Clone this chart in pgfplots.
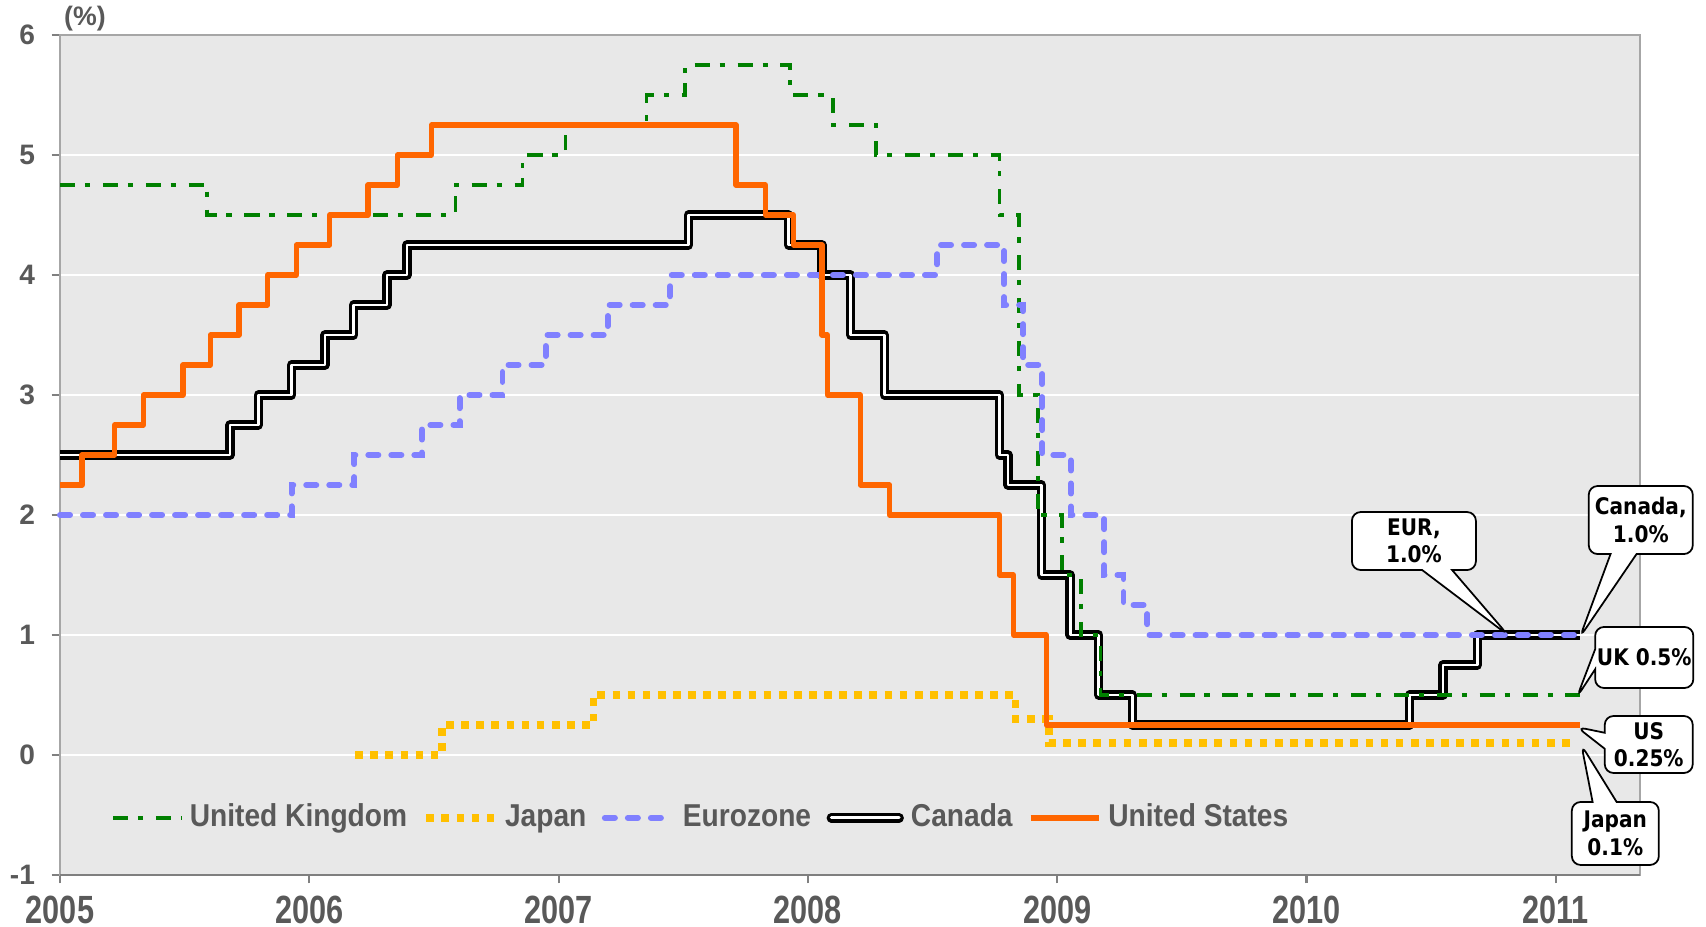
\documentclass[border=0pt]{standalone}
\usepackage{pgfplots}
\pgfplotsset{compat=1.18}
\usepackage{fontspec}
\setmainfont{Liberation Sans}
\newfontfamily\narrowfont{Liberation Sans}[FakeStretch=0.78]
\newfontfamily\legfont{Liberation Sans}[FakeStretch=0.89]
\newfontfamily\callfont{DejaVu Sans}[FakeStretch=0.88]
\usetikzlibrary{shapes.callouts}
\definecolor{ukgreen}{HTML}{008000}
\definecolor{jpyellow}{HTML}{FFC000}
\definecolor{eublue}{HTML}{8080FF}
\definecolor{usorange}{HTML}{FF6600}
\definecolor{txtgray}{HTML}{595959}
\definecolor{bggray}{HTML}{E8E8E8}
\definecolor{axgray}{HTML}{A6A6A6}
\definecolor{botgray}{HTML}{7F7F7F}

\pgfplotstableread{
x y
2005.000 2.25
2005.088 2.50
2005.219 2.75
2005.334 3.00
2005.493 3.25
2005.603 3.50
2005.718 3.75
2005.833 4.00
2005.948 4.25
2006.082 4.50
2006.236 4.75
2006.353 5.00
2006.490 5.25
2007.712 4.75
2007.830 4.50
2007.942 4.25
2008.057 3.50
2008.079 3.00
2008.210 2.25
2008.328 2.00
2008.768 1.50
2008.825 1.00
2008.956 0.25
2011.097 0.25
}\us

\pgfplotstableread{
x y
2005.000 2.50
2005.682 2.75
2005.795 3.00
2005.929 3.25
2006.063 3.50
2006.178 3.75
2006.312 4.00
2006.392 4.25
2007.521 4.50
2007.923 4.25
2008.057 4.00
2008.172 3.50
2008.306 3.00
2008.768 2.50
2008.803 2.25
2008.937 1.50
2009.052 1.00
2009.167 0.50
2009.301 0.25
2010.414 0.50
2010.548 0.75
2010.685 1.00
2011.097 1.00
}\canada

\pgfplotstableread{
x y
2005.000 2.00
2005.929 2.25
2006.181 2.50
2006.452 2.75
2006.603 3.00
2006.775 3.25
2006.948 3.50
2007.197 3.75
2007.447 4.00
2008.519 4.25
2008.787 3.75
2008.863 3.25
2008.940 2.50
2009.055 2.00
2009.189 1.50
2009.266 1.25
2009.362 1.00
2011.097 1.00
}\euro

\pgfplotstableread{
x y
2005.000 4.75
2005.589 4.50
2006.586 4.75
2006.855 5.00
2007.027 5.25
2007.353 5.50
2007.507 5.75
2007.929 5.50
2008.101 5.25
2008.273 5.00
2008.768 4.50
2008.847 3.00
2008.923 2.00
2009.019 1.50
2009.096 1.00
2009.173 0.50
2011.097 0.50
}\uk

\pgfplotstableread{
x y
2006.184 0.00
2006.532 0.25
2007.140 0.50
2008.833 0.30
2008.967 0.10
2011.065 0.10
}\japan

\tikzset{
  ukstyle/.style={ukgreen, line width=1pt, dash pattern=on 4.3pt off 2.8pt on 1.5pt off 3.6pt},
  jpstyle/.style={jpyellow, line width=2.1pt, dash pattern=on 2.2pt off 2.1pt},
  eustyle/.style={eublue, line width=1.7pt, line cap=round, dash pattern=on 2.85pt off 3.7pt},
  usstyle/.style={usorange, line width=1.5pt, line join=round},
  castyle/.style={black, line width=2.65pt, line join=round},
  cawhite/.style={white, line width=0.8pt, line join=round},
  callbox/.style={rectangle callout, draw=black, fill=white, rounded corners=2.5pt,
    line width=0.5pt, align=center, inner sep=0.5pt,
    font=\callfont\bfseries\fontsize{6.5}{7.8}\selectfont, text=black},
}

\begin{document}
\begin{tikzpicture}
\begin{axis}[
  name=ax,
  scale only axis,
  width=158mm, height=84mm,
  xmin=2005, xmax=2011.338,
  ymin=-1, ymax=6,
  clip=false,
  axis background/.style={fill=bggray},
  axis line style={draw=axgray, line width=0.6pt},
  xtick={2005,2006,2007,2008,2009,2010,2011},
  xticklabels={2005,2006,2007,2008,2009,2010,2011},
  ytick={-1,0,1,2,3,4,5,6},
  yticklabels={-1,0,1,2,3,4,5,6},
  tick align=outside,
  xtick pos=left, ytick pos=left,
  major tick length=2.4pt,
  tick style={draw=gray, line width=0.6pt},
  ymajorgrids,
  major grid style={white, line width=0.6pt},
  yticklabel style={font=\bfseries\fontsize{8}{9}\selectfont, text=txtgray, xshift=-1.2pt},
  xticklabel style={font=\narrowfont\bfseries\fontsize{11.2}{12}\selectfont, text=txtgray},
  legend columns=-1,
  legend style={at={(rel axis cs:0.032,0.068)}, anchor=west, draw=none, fill=none,
    inner sep=0pt,
    font=\legfont\bfseries\fontsize{9}{10}\selectfont, text=txtgray,
    /tikz/every even column/.append style={column sep=2.4pt}},
]
\addlegendimage{legend image code/.code={\draw[ukstyle] (0cm,0cm)--(0.68cm,0cm);}}
\addlegendentry{United Kingdom}
\addlegendimage{legend image code/.code={\draw[jpstyle] (0cm,0cm)--(0.68cm,0cm);}}
\addlegendentry{Japan}
\addlegendimage{legend image code/.code={\draw[eustyle] (0cm,0cm)--(0.68cm,0cm);}}
\addlegendentry{Eurozone}
\addlegendimage{legend image code/.code={
  \draw[black,line width=2.65pt,line cap=round] (0cm,0cm)--(0.68cm,0cm);
  \draw[white,line width=0.8pt,line cap=round] (0cm,0cm)--(0.68cm,0cm);}}
\addlegendentry{Canada}
\addlegendimage{legend image code/.code={\draw[usstyle] (0cm,0cm)--(0.68cm,0cm);}}
\addlegendentry{United States}

\addplot[castyle, const plot mark left, forget plot] table {\canada};
\addplot[cawhite, const plot mark left, forget plot] table {\canada};
\addplot[ukstyle, const plot mark left, forget plot] table {\uk};
\addplot[jpstyle, const plot mark left, forget plot] table {\japan};
\addplot[eustyle, const plot mark left, forget plot] table {\euro};
\addplot[usstyle, const plot mark left, forget plot] table {\us};

\draw[botgray, line width=0.7pt] (rel axis cs:0,0) -- (rel axis cs:1,0);

\node[font=\bfseries\fontsize{7.6}{8}\selectfont, text=txtgray, yshift=4.6pt]
  at (rel axis cs:0.0158,1) {(\%)};

\node[callbox, minimum width=12.4mm, minimum height=5.8mm, callout pointer width=3mm,
  callout absolute pointer={(axis cs:2010.808,1.0)}]
  at (axis cs:2010.431,1.783) {EUR,\\1.0\%};
\node[callbox, minimum width=10.4mm, minimum height=6.8mm, callout pointer width=2.6mm,
  callout absolute pointer={(axis cs:2011.097,0.983)}]
  at (axis cs:2011.341,1.958) {Canada,\\1.0\%};
\node[callbox, minimum width=9.7mm, minimum height=6.1mm, callout pointer width=2mm,
  callout absolute pointer={(axis cs:2011.085,0.483)}]
  at (axis cs:2011.355,0.8125) {UK 0.5\%};
\node[callbox, minimum width=8.8mm, minimum height=5.7mm, callout pointer width=1.6mm,
  callout absolute pointer={(axis cs:2011.085,0.233)}]
  at (axis cs:2011.373,0.0875) {US\\0.25\%};
\node[callbox, minimum width=8.7mm, minimum height=6.3mm, callout pointer width=2.4mm,
  callout absolute pointer={(axis cs:2011.103,0.083)}]
  at (axis cs:2011.239,-0.654) {Japan\\0.1\%};
\end{axis}
\pgfresetboundingbox
\path[use as bounding box] ([xshift=-6mm,yshift=-5.2mm]ax.south west) rectangle ([xshift=6.6mm,yshift=3.5mm]ax.north east);
\end{tikzpicture}
\end{document}
